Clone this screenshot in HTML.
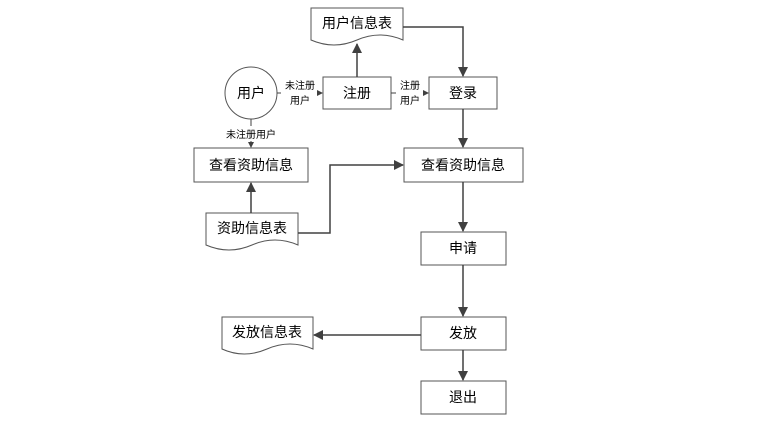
<!DOCTYPE html>
<html><head><meta charset="utf-8"><style>
body{margin:0;background:#fff}
svg text{font-family:"Liberation Sans","Noto Sans CJK SC",sans-serif;fill:#000}
</style></head><body>
<svg width="773" height="422" viewBox="0 0 773 422" xmlns="http://www.w3.org/2000/svg">
<defs>
<marker id="a" markerWidth="10" markerHeight="10" refX="9" refY="5" orient="auto" markerUnits="userSpaceOnUse"><path d="M0,0 L10,5 L0,10 z" fill="#404040"/></marker>
<marker id="s" markerWidth="6" markerHeight="6" refX="5" refY="3" orient="auto" markerUnits="userSpaceOnUse"><path d="M0,0 L6,3 L0,6 z" fill="#404040"/></marker>
</defs>
<g fill="#fff" stroke="#555" stroke-width="1">
<path d="M311,8 H403 V40 Q380,30 357,40 Q334,50 311,40 Z"/>
<path d="M206,213 H298 V245 Q275,235 252,245 Q229,255 206,245 Z"/>
<path d="M222,317 H313 V349 Q290,339 267,349 Q244,359 222,349 Z"/>
<circle cx="251" cy="93" r="26"/>
<rect x="323" y="77" width="68" height="32"/>
<rect x="429" y="77" width="68" height="32"/>
<rect x="194" y="148" width="114" height="34"/>
<rect x="404" y="148" width="119" height="34"/>
<rect x="421" y="232" width="85" height="33"/>
<rect x="421" y="317" width="85" height="33"/>
<rect x="421" y="381" width="85" height="33"/>
</g>
<g fill="none" stroke="#404040" stroke-width="1.5">
<path d="M403,27 H463 V76" marker-end="url(#a)"/>
<path d="M357,77 V44" marker-end="url(#a)"/>
<path d="M463,109 V147" marker-end="url(#a)"/>
<path d="M251,213 V183" marker-end="url(#a)"/>
<path d="M298,233 H330 V165 H403" marker-end="url(#a)"/>
<path d="M463,182 V231" marker-end="url(#a)"/>
<path d="M463,265 V316" marker-end="url(#a)"/>
<path d="M463,350 V380" marker-end="url(#a)"/>
<path d="M421,335 H314" marker-end="url(#a)"/>
</g>
<g fill="none" stroke="#404040" stroke-width="1">
<path d="M277,93 H281 M317,93 H322" marker-end="url(#s)"/>
<path d="M391,93 H396 M423,93 H428" marker-end="url(#s)"/>
<path d="M251,119 V126 M251,141 V147" marker-end="url(#s)"/>
</g>
<g font-size="14" text-anchor="middle">
<text x="357" y="28">用户信息表</text>
<text x="251" y="98">用户</text>
<text x="357" y="98">注册</text>
<text x="463" y="98">登录</text>
<text x="251" y="170">查看资助信息</text>
<text x="463" y="170">查看资助信息</text>
<text x="252" y="233">资助信息表</text>
<text x="463" y="253">申请</text>
<text x="267" y="337">发放信息表</text>
<text x="463" y="338">发放</text>
<text x="463" y="402">退出</text>
</g>
<g font-size="10" text-anchor="middle">
<text x="300" y="89">未注册</text>
<text x="300" y="104">用户</text>
<text x="410" y="89">注册</text>
<text x="410" y="104">用户</text>
<text x="251" y="138">未注册用户</text>
</g>
</svg>
</body></html>
